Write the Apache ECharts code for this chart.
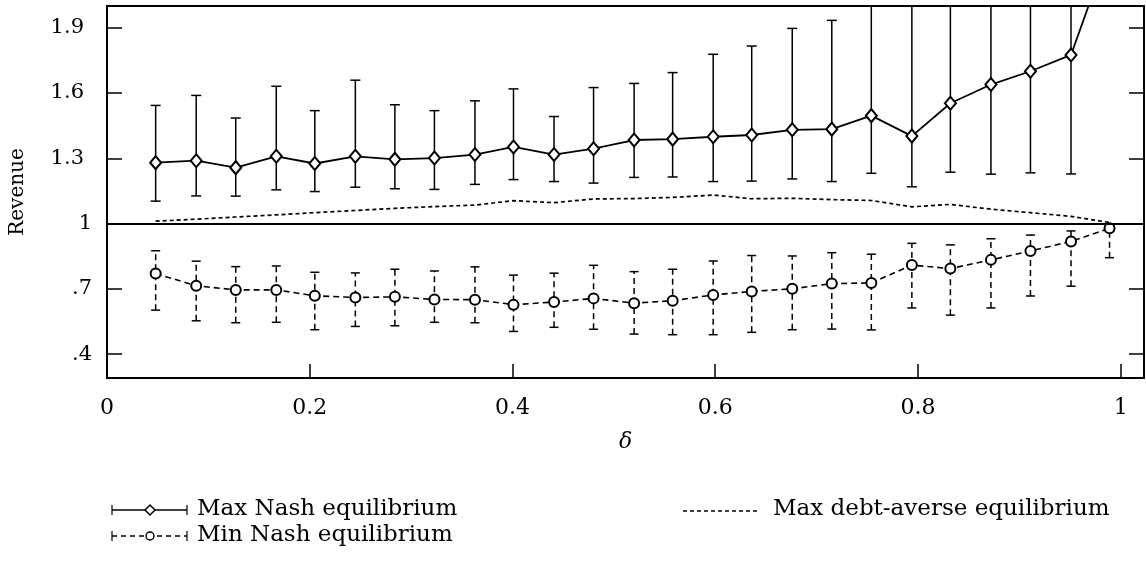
<!DOCTYPE html>
<html>
<head>
<meta charset="utf-8">
<script src="https://cdn.jsdelivr.net/npm/echarts@6/dist/echarts.min.js"></script>
<style>html,body{margin:0;padding:0;background:#fff;}#c{width:1146px;height:561px;}</style>
</head>
<body>
<div id="c"></div>
<script>
// ---- data ----
const delta = [0.048,0.088,0.127,0.167,0.205,0.245,0.284,0.323,0.363,0.401,0.441,0.480,0.520,0.558,0.598,0.636,0.676,0.715,0.754,0.794,0.832,0.872,0.911,0.951,0.989];
const maxNash     = [1.280,1.289,1.257,1.309,1.276,1.309,1.295,1.301,1.317,1.352,1.317,1.344,1.384,1.388,1.399,1.407,1.431,1.434,1.496,1.402,1.553,1.639,1.700,1.775,2.270];
const maxNashHigh = [1.543,1.589,1.485,1.631,1.519,1.659,1.546,1.519,1.564,1.619,1.492,1.625,1.644,1.694,1.778,1.816,1.897,1.934,2.080,2.150,2.200,2.300,2.350,2.400,2.700];
const maxNashLow  = [1.103,1.127,1.126,1.155,1.147,1.167,1.160,1.157,1.180,1.202,1.193,1.186,1.212,1.214,1.193,1.195,1.205,1.193,1.231,1.169,1.236,1.227,1.233,1.228,2.050];
const minNash     = [0.770,0.714,0.695,0.695,0.668,0.660,0.663,0.651,0.650,0.627,0.639,0.656,0.634,0.645,0.672,0.688,0.700,0.724,0.727,0.809,0.793,0.833,0.874,0.918,0.978];
const minNashHigh = [0.875,0.827,0.802,0.805,0.776,0.773,0.790,0.782,0.801,0.763,0.772,0.808,0.779,0.790,0.828,0.853,0.851,0.866,0.859,0.909,0.902,0.930,0.947,0.966,0.995];
const minNashLow  = [0.602,0.553,0.544,0.546,0.512,0.527,0.530,0.546,0.544,0.504,0.523,0.514,0.492,0.489,0.489,0.500,0.512,0.515,0.511,0.612,0.579,0.612,0.667,0.712,0.843];
const debtAverse  = [1.011,1.020,1.030,1.040,1.050,1.060,1.070,1.078,1.085,1.105,1.096,1.113,1.115,1.120,1.131,1.114,1.116,1.110,1.106,1.077,1.088,1.066,1.050,1.033,1.005];
const yTicks = [0.4,0.7,1,1.3,1.6,1.9];
const yTickLabels = ['.4','.7','1','1.3','1.6','1.9'];
const xTicks = [0,0.2,0.4,0.6,0.8,1];
const xTickLabels = ['0','0.2','0.4','0.6','0.8','1'];
const seriesNames = ['Max Nash equilibrium','Min Nash equilibrium','Max debt-averse equilibrium'];

const FONT = 'DejaVu Serif';
const chart = echarts.init(document.getElementById('c'), null, {renderer:'canvas'});

function errBar(dashed, capHalf){
  return function(params, api){
    const x = api.value(0), lo = api.value(1), hi = api.value(2);
    const a = api.coord([x, lo]), b = api.coord([x, hi]);
    const st = {stroke:'#000', lineWidth:1.5};
    const ls = dashed ? Object.assign({lineDash:[6,4]}, st) : st;
    return {type:'group', children:[
      {type:'line', shape:{x1:a[0],y1:a[1],x2:b[0],y2:b[1]}, style:ls},
      {type:'line', shape:{x1:a[0]-capHalf,y1:a[1],x2:a[0]+capHalf,y2:a[1]}, style:st},
      {type:'line', shape:{x1:b[0]-capHalf,y1:b[1],x2:b[0]+capHalf,y2:b[1]}, style:st}
    ]};
  };
}
function findLabel(ticks, labels, v){
  const i = ticks.findIndex(t=>Math.abs(t-v)<1e-6);
  return i>=0 ? labels[i] : '';
}

const option = {
  backgroundColor:'#fff',
  animation:false,
  grid:{left:107, right:2, top:6, height:372, show:true, borderColor:'#000', borderWidth:2, backgroundColor:'transparent'},
  xAxis:{
    type:'value', min:0, max:1.023,
    name:'δ', nameLocation:'middle', nameGap:53,
    nameTextStyle:{fontFamily:FONT, fontStyle:'italic', fontSize:22, color:'#000'},
    axisLine:{show:true, lineStyle:{color:'#000', width:2}},
    axisTick:{inside:true, length:14, customValues:xTicks, lineStyle:{color:'#000', width:1.5}},
    axisLabel:{margin:19, fontFamily:FONT, fontSize:22, color:'#000', customValues:xTicks,
      formatter:function(v){ return findLabel(xTicks, xTickLabels, v); }},
    splitLine:{show:false}
  },
  yAxis:[{
    type:'value', min:0.29, max:2.0,
    name:'Revenue', nameLocation:'middle', nameGap:79,
    nameTextStyle:{fontFamily:FONT, fontSize:20, color:'#000'},
    axisLine:{show:true, lineStyle:{color:'#000', width:2}},
    axisTick:{inside:true, length:15, customValues:yTicks, lineStyle:{color:'#000', width:1.5}},
    axisLabel:{margin:15, fontFamily:FONT, fontSize:21, color:'#000', customValues:yTicks,
      formatter:function(v){ const s = findLabel(yTicks, yTickLabels, v); return s.length>2 ? '{w|'+s+'}' : s; },
      rich:{w:{fontFamily:FONT, fontSize:21, color:'#000', padding:[0,8,0,0]}}},
    splitLine:{show:false}
  },{
    type:'value', min:0.29, max:2.0, position:'right',
    axisLine:{show:true, lineStyle:{color:'#000', width:2}},
    axisTick:{inside:true, length:15, customValues:yTicks, lineStyle:{color:'#000', width:1.5}},
    axisLabel:{show:false},
    splitLine:{show:false}
  }],
  series:[
    {
      name:seriesNames[0]+' bars', type:'custom', clip:true, z:2,
      renderItem:errBar(false, 5),
      data:delta.map((d,i)=>[d, maxNashLow[i], maxNashHigh[i]])
    },
    {
      name:seriesNames[1]+' bars', type:'custom', clip:true, z:2,
      renderItem:errBar(true, 4.5),
      data:delta.map((d,i)=>[d, minNashLow[i], minNashHigh[i]])
    },
    {
      name:seriesNames[2], type:'line', z:3, clip:true,
      showSymbol:false, symbol:'none',
      lineStyle:{color:'#000', width:1.7, type:[4,3]},
      data:delta.map((d,i)=>[d, debtAverse[i]]),
      markLine:{silent:true, symbol:'none', label:{show:false},
        lineStyle:{color:'#000', width:2, type:'solid'}, data:[{yAxis:1}]}
    },
    {
      name:seriesNames[0], type:'line', z:4, clip:true,
      symbol:'emptyDiamond', symbolSize:[11,13],
      lineStyle:{color:'#000', width:1.8},
      itemStyle:{color:'#000', borderWidth:1.6},
      data:delta.map((d,i)=>[d, maxNash[i]])
    },
    {
      name:seriesNames[1], type:'line', z:4, clip:true,
      symbol:'emptyCircle', symbolSize:10,
      lineStyle:{color:'#000', width:1.6, type:[6,4]},
      itemStyle:{color:'#000', borderWidth:1.4},
      data:delta.map((d,i)=>[d, minNash[i]])
    }
  ],
  graphic:[
    // legend row 1: Max Nash
    {type:'line', shape:{x1:112,y1:510,x2:187,y2:510}, style:{stroke:'#000', lineWidth:1.5}},
    {type:'line', shape:{x1:112,y1:505,x2:112,y2:515}, style:{stroke:'#000', lineWidth:1.2}},
    {type:'line', shape:{x1:187,y1:505,x2:187,y2:515}, style:{stroke:'#000', lineWidth:1.2}},
    {type:'polygon', shape:{points:[[150,505],[155,510],[150,515],[145,510]]}, style:{fill:'#fff', stroke:'#000', lineWidth:1.5}},
    {type:'text', left:197, top:498, style:{text:seriesNames[0], font:'23px "'+FONT+'"', fill:'#000'}},
    // legend row 2: Min Nash
    {type:'line', shape:{x1:112,y1:536,x2:187,y2:536}, style:{stroke:'#000', lineWidth:1.3, lineDash:[5,4]}},
    {type:'line', shape:{x1:112,y1:531,x2:112,y2:541}, style:{stroke:'#000', lineWidth:1.2}},
    {type:'line', shape:{x1:187,y1:531,x2:187,y2:541}, style:{stroke:'#000', lineWidth:1.2}},
    {type:'circle', shape:{cx:150,cy:536,r:4}, style:{fill:'#fff', stroke:'#000', lineWidth:1.4}},
    {type:'text', left:197, top:524, style:{text:seriesNames[1], font:'23px "'+FONT+'"', fill:'#000'}},
    // legend: debt-averse
    {type:'line', shape:{x1:683,y1:511,x2:757,y2:511}, style:{stroke:'#000', lineWidth:1.4, lineDash:[4,3]}},
    {type:'text', left:773, top:498, style:{text:seriesNames[2], font:'23px "'+FONT+'"', fill:'#000'}}
  ]
};
chart.setOption(option);
</script>
</body>
</html>
